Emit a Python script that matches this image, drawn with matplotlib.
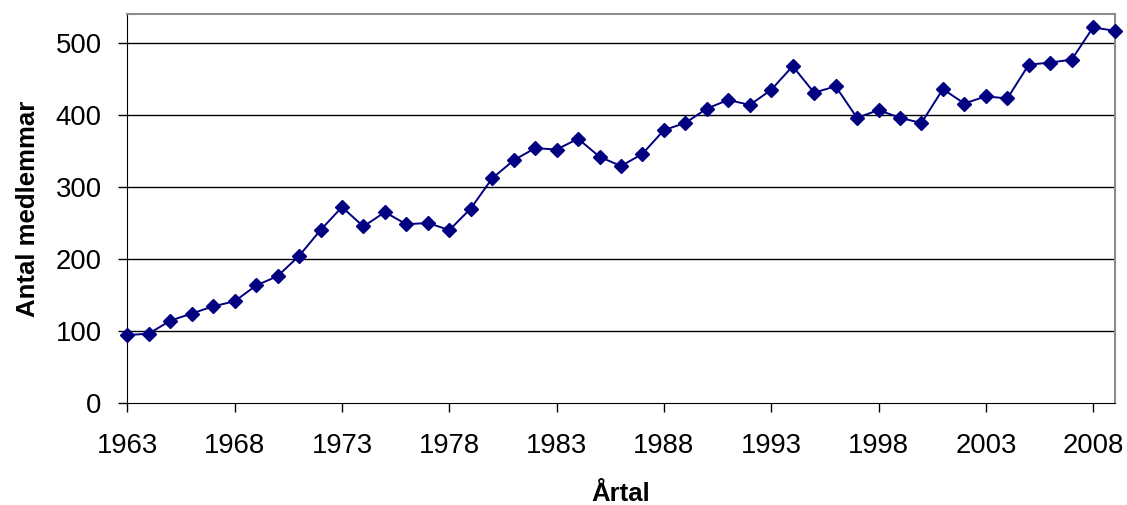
import matplotlib
matplotlib.use("Agg")
import matplotlib.pyplot as plt

plt.rcParams.update({
    "font.family": ["Liberation Sans", "DejaVu Sans"],
})

# Antal medlemmar per år (avläst ur originalfiguren)
artal = list(range(1963, 2010))
medlemmar = [94, 96, 114, 124, 134, 141, 163, 176, 204, 240,
             272, 245, 265, 248, 250, 240, 270, 312, 337, 354,
             352, 367, 342, 329, 346, 379, 389, 409, 421, 414,
             435, 468, 431, 440, 396, 407, 396, 389, 436, 416,
             426, 423, 470, 473, 477, 522, 517]
xticks = list(range(1963, 2010, 5))
yticks = [0, 100, 200, 300, 400, 500]

fig = plt.figure(figsize=(11.27, 5.05), dpi=100)
ax = fig.add_axes([0.113, 0.2026, 0.876, 0.769])

for y in yticks[1:]:
    ax.axhline(y, color="black", lw=1.0, zorder=1)

ax.plot(artal, medlemmar, color="#000080", lw=1.4, marker="D",
        markersize=7, markerfacecolor="#000080", markeredgecolor="#000080",
        zorder=3, clip_on=False)

ax.set_xlim(1963, 2009)
ax.set_ylim(0, 540)
ax.set_xticks(xticks)
ax.set_yticks(yticks)
ax.tick_params(axis="both", labelsize=19.8, direction="out", length=6.5,
               width=1.0, color="black")
ax.tick_params(axis="y", pad=12)
ax.tick_params(axis="x", pad=15)

ax.spines["left"].set_color("black")
ax.spines["bottom"].set_color("black")
for s in ("top", "right"):
    ax.spines[s].set_color("#8c8c8c")
    ax.spines[s].set_linewidth(1.5)

ax.set_xlabel("Årtal", fontsize=18.5, fontweight="bold", labelpad=17)
ax.set_ylabel("Antal medlemmar", fontsize=18.5, fontweight="bold", labelpad=11)

fig.savefig("out.png", dpi=100)
